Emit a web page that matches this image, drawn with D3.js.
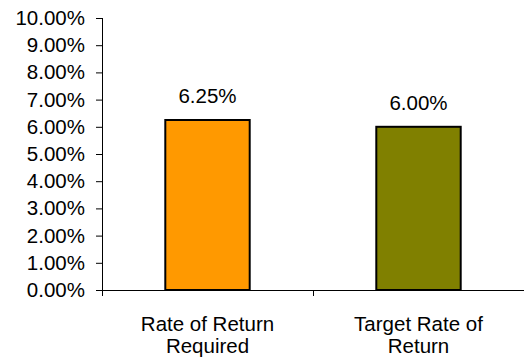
<!DOCTYPE html>
<html>
<head>
<meta charset="utf-8">
<script src="https://cdn.jsdelivr.net/npm/d3@7"></script>
<style>
  html, body { margin: 0; padding: 0; background: #fff; }
  svg { display: block; }
  text { font-family: "Liberation Sans", Arial, sans-serif; fill: #000; }
</style>
</head>
<body>
<svg id="chart" width="524" height="358"></svg>
<script>
// data
var categories = [["Rate of Return", "Required"], ["Target Rate of", "Return"]],
    values = [0.0625, 0.06],
    colors = ["#FF9900", "#808000"],
    yTicks = [0, 0.01, 0.02, 0.03, 0.04, 0.05, 0.06, 0.07, 0.08, 0.09, 0.10];

// note: "top" is a window property, so use other names
var svg = d3.select("#chart"),
    plotLeft = 102, plotRight = 524, plotTop = 18, plotBottom = 290,
    fontSize = 20.5;

var x = d3.scaleBand()
    .domain(d3.range(values.length))
    .range([plotLeft, plotRight])
    .paddingInner(0.6)
    .paddingOuter(0.3);

var y = d3.scaleLinear()
    .domain([0, 0.10])
    .range([plotBottom, plotTop]);

// y axis
var yAxis = svg.append("g")
    .attr("transform", "translate(" + plotLeft + ",0)")
    .call(d3.axisLeft(y).tickValues(yTicks).tickFormat(d3.format(".2%")).tickSize(6).tickPadding(11));
yAxis.select(".domain").attr("stroke", "#000").attr("d", "M0.5," + plotTop + "V" + plotBottom);
yAxis.selectAll(".tick line").attr("stroke", "#000");
yAxis.selectAll("text").style("font-size", fontSize + "px").attr("fill", "#000");

// bars
svg.selectAll("rect.bar")
    .data(values)
  .enter().append("rect")
    .attr("class", "bar")
    .attr("x", function(d, i) { return x(i); })
    .attr("y", function(d) { return y(d); })
    .attr("width", x.bandwidth())
    .attr("height", function(d) { return y(0) - y(d); })
    .attr("fill", function(d, i) { return colors[i]; })
    .attr("stroke", "#000")
    .attr("stroke-width", 2);

// value labels
svg.selectAll("text.val")
    .data(values)
  .enter().append("text")
    .attr("class", "val")
    .attr("x", function(d, i) { return x(i) + x.bandwidth() / 2; })
    .attr("y", function(d) { return y(d) - 17; })
    .attr("text-anchor", "middle")
    .style("font-size", fontSize + "px")
    .text(function(d) { return d3.format(".2%")(d); });

// x axis line + ticks between categories
var xg = svg.append("g");
xg.append("line")
    .attr("x1", plotLeft).attr("x2", plotRight)
    .attr("y1", plotBottom + 0.5).attr("y2", plotBottom + 0.5)
    .attr("stroke", "#000");
xg.selectAll("line.tk")
    .data(d3.range(values.length + 1))
  .enter().append("line")
    .attr("class", "tk")
    .attr("x1", function(i) { return Math.round(plotLeft + i * x.step()) + 0.5; })
    .attr("x2", function(i) { return Math.round(plotLeft + i * x.step()) + 0.5; })
    .attr("y1", plotBottom).attr("y2", plotBottom + 6)
    .attr("stroke", "#000");

// category labels, two lines each
var cat = xg.selectAll("text.cat")
    .data(categories)
  .enter().append("text")
    .attr("class", "cat")
    .attr("text-anchor", "middle")
    .style("font-size", fontSize + "px");
cat.selectAll("tspan")
    .data(function(d, i) { return d.map(function(s) { return {s: s, i: i}; }); })
  .enter().append("tspan")
    .attr("x", function(d) { return x(d.i) + x.bandwidth() / 2; })
    .attr("y", function(d, j) { return 331 + j * 22; })
    .text(function(d) { return d.s; });
</script>
</body>
</html>
